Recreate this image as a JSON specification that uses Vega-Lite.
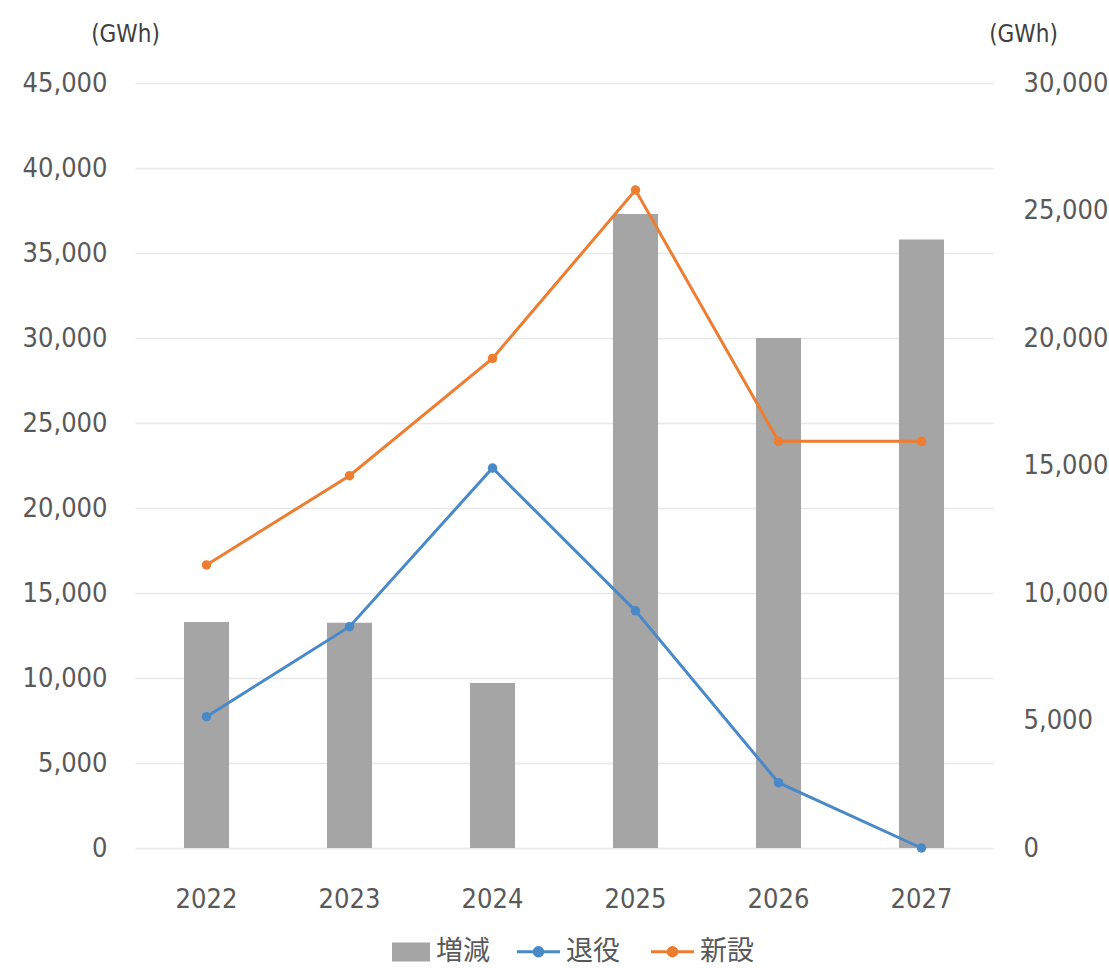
{
  "$schema": "https://vega.github.io/schema/vega-lite/v6.json",
  "width": 858,
  "height": 765,
  "autosize": {"type": "none"},
  "padding": {"left": 135, "top": 83, "right": 116, "bottom": 120},
  "background": "white",
  "config": {
    "view": {"stroke": null},
    "font": "DejaVu Sans Condensed",
    "axis": {"labelFont": "DejaVu Sans Condensed", "labelFontSize": 27, "labelColor": "#595959", "titleFont": "DejaVu Sans Condensed", "titleFontWeight": "normal", "titleColor": "#404040"},
    "legend": {"labelFont": "Noto Sans CJK JP", "labelFontSize": 27, "labelColor": "#595959"}
  },
  "data": {
    "values": [
      {"year": "2022", "series": "増減", "value": 13300},
      {"year": "2023", "series": "増減", "value": 13250},
      {"year": "2024", "series": "増減", "value": 9700},
      {"year": "2025", "series": "増減", "value": 37300},
      {"year": "2026", "series": "増減", "value": 30000},
      {"year": "2027", "series": "増減", "value": 35800},
      {"year": "2022", "series": "退役", "value": 5150},
      {"year": "2023", "series": "退役", "value": 8680},
      {"year": "2024", "series": "退役", "value": 14900},
      {"year": "2025", "series": "退役", "value": 9300},
      {"year": "2026", "series": "退役", "value": 2560},
      {"year": "2027", "series": "退役", "value": 0},
      {"year": "2022", "series": "新設", "value": 11100},
      {"year": "2023", "series": "新設", "value": 14600},
      {"year": "2024", "series": "新設", "value": 19200},
      {"year": "2025", "series": "新設", "value": 25800},
      {"year": "2026", "series": "新設", "value": 15950},
      {"year": "2027", "series": "新設", "value": 15950}
    ]
  },
  "encoding": {
    "x": {
      "field": "year", "type": "ordinal",
      "scale": {"paddingInner": 0.685, "paddingOuter": 0.3425},
      "axis": {"title": null, "labelAngle": 0, "ticks": false, "domain": false, "labelPadding": 38}
    }
  },
  "layer": [
    {
      "transform": [{"filter": "datum.series === '増減'"}],
      "mark": {"type": "bar", "color": "#A5A5A5"},
      "encoding": {
        "y": {
          "field": "value", "type": "quantitative",
          "scale": {"domain": [0, 45000], "nice": false},
          "axis": {
            "orient": "left", "values": [0, 5000, 10000, 15000, 20000, 25000, 30000, 35000, 40000, 45000],
            "format": ",d", "grid": true, "gridColor": "#E8E8E8", "gridWidth": 1.5,
            "ticks": false, "domain": false, "labelPadding": 28,
            "title": "(GWh)", "titleAngle": 0, "titleX": -10, "titleY": -49,
            "titleAlign": "center", "titleBaseline": "middle", "titleFontSize": 24
          }
        },
        "color": {
          "field": "series", "type": "nominal",
          "scale": {"domain": ["増減"], "range": ["#A5A5A5"]},
          "legend": {
            "title": null, "orient": "none", "legendX": 257, "legendY": 850,
            "symbolType": "M-1,-0.5H1V0.5H-1Z", "symbolSize": 1444, "symbolStrokeWidth": 0,
            "labelOffset": 6
          }
        }
      }
    },
    {
      "transform": [{"filter": "datum.series !== '増減'"}],
      "encoding": {
        "y": {
          "field": "value", "type": "quantitative",
          "scale": {"domain": [0, 30000], "nice": false},
          "axis": {
            "orient": "right", "values": [0, 5000, 10000, 15000, 20000, 25000, 30000],
            "format": ",d", "grid": false, "ticks": false, "domain": false, "labelPadding": 30,
            "title": "(GWh)", "titleAngle": 0, "titleX": 30, "titleY": -49,
            "titleAlign": "center", "titleBaseline": "middle", "titleFontSize": 24
          }
        },
        "color": {
          "field": "series", "type": "nominal",
          "scale": {"domain": ["退役", "新設"], "range": ["#4A89C8", "#ED7D31"]},
          "sort": ["退役", "新設"],
          "legend": {
            "title": null, "orient": "none", "legendX": 380, "legendY": 845, "direction": "horizontal",
            "symbolType": "M-1,0H1M-0.2,0A0.2,0.2 0 1,1 0.2,0A0.2,0.2 0 1,1 -0.2,0Z",
            "symbolSize": 1850, "symbolStrokeWidth": 3, "labelOffset": 4, "columnPadding": 24
          }
        }
      },
      "layer": [
        {"mark": {"type": "line", "strokeWidth": 3}},
        {"mark": {"type": "point", "filled": true, "size": 90, "opacity": 1}}
      ]
    }
  ],
  "resolve": {"scale": {"y": "independent", "color": "independent"}, "legend": {"color": "independent"}}
}
